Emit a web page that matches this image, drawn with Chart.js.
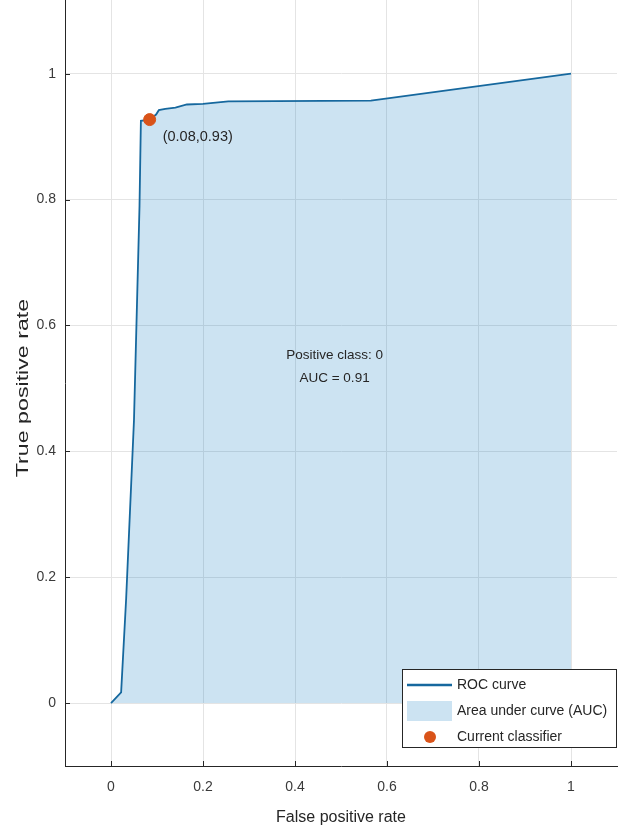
<!DOCTYPE html>
<html>
<head>
<meta charset="utf-8">
<script src="https://cdn.jsdelivr.net/npm/chart.js@4"></script>
<style>
  html, body { margin: 0; padding: 0; background: #fff; }
  #roc { display: block; }
</style>
</head>
<body>
<canvas id="roc" width="619" height="831"></canvas>
<script>
// --- data ---
const fpr = [0, 0.022, 0.033, 0.05, 0.062, 0.065, 0.084, 0.098, 0.104, 0.118, 0.14, 0.165, 0.2, 0.255, 0.565, 1];
const tpr = [0, 0.017, 0.167, 0.45, 0.79, 0.925, 0.927, 0.935, 0.942, 0.944, 0.946, 0.951, 0.952, 0.956, 0.957, 1];
const currentFpr = [0.084];
const currentTpr = [0.927];
const xTicks = [0, 0.2, 0.4, 0.6, 0.8, 1];
const yTicks = [0, 0.2, 0.4, 0.6, 0.8, 1];
const aucValue = 0.91;
const positiveClass = 0;

const FONT = "'Liberation Sans', Arial, sans-serif";
const LINE_COLOR = "#16689e";
const AREA_COLOR = "rgba(0,114,189,0.2)";
const DOT_COLOR = "#d95319";
const AXIS_COLOR = "#262626";

const pts = (xs, ys) => xs.map((x, i) => ({ x, y: ys[i] }));

// ticks pointing inwards like matlab, y title, text labels and legend
const matlabBits = {
  id: "matlabBits",
  afterDraw(chart) {
    const { ctx, chartArea: a, scales: { x, y } } = chart;
    ctx.save();
    ctx.strokeStyle = AXIS_COLOR;
    ctx.lineWidth = 1;
    ctx.beginPath();
    xTicks.forEach(v => {
      const px = Math.round(x.getPixelForValue(v)) + 0.5;
      ctx.moveTo(px, a.bottom); ctx.lineTo(px, a.bottom - 5);
    });
    yTicks.forEach(v => {
      const py = Math.round(y.getPixelForValue(v)) + 0.5;
      ctx.moveTo(a.left, py); ctx.lineTo(a.left + 5, py);
    });
    ctx.stroke();

    // y title, stretched along its length like in the picture
    ctx.save();
    ctx.translate(24, (a.top + a.bottom) / 2 + 5);
    ctx.rotate(-Math.PI / 2);
    ctx.scale(1.45, 1);
    ctx.fillStyle = AXIS_COLOR;
    ctx.font = "16px " + FONT;
    ctx.textAlign = "center";
    ctx.textBaseline = "middle";
    ctx.fillText("True positive rate", 0, 0);
    ctx.restore();

    // annotation next to the current classifier
    ctx.fillStyle = AXIS_COLOR;
    ctx.font = "14.5px " + FONT;
    ctx.textBaseline = "middle";
    ctx.textAlign = "left";
    const cx = x.getPixelForValue(currentFpr[0]);
    const cy = y.getPixelForValue(currentTpr[0]);
    ctx.fillText("(" + currentFpr[0].toFixed(2) + "," + currentTpr[0].toFixed(2) + ")", cx + 13, cy + 17);

    // class / AUC text
    ctx.font = "13.5px " + FONT;
    ctx.textAlign = "center";
    const tx = x.getPixelForValue(0.486);
    ctx.fillText("Positive class: " + positiveClass, tx, y.getPixelForValue(0.552));
    ctx.fillText("AUC = " + aucValue.toFixed(2), tx, y.getPixelForValue(0.516));

    // legend box in the lower right corner
    const L = 402, T = 669, R = a.right, B = 748;
    ctx.fillStyle = "#fff";
    ctx.fillRect(L, T, R - L, B - T);
    ctx.strokeStyle = AXIS_COLOR;
    ctx.strokeRect(L + 0.5, T + 0.5, R - L - 1, B - T - 1);
    ctx.font = "14px " + FONT;
    const ds = chart.data.datasets;
    const rows = [ds[1], ds[2], ds[0]];
    rows.forEach((d, i) => {
      const ry = T + 16 + i * 26;
      if (d.type === "scatter") {
        ctx.fillStyle = d.backgroundColor;
        ctx.beginPath(); ctx.arc(430, ry, 6, 0, Math.PI * 2); ctx.fill();
      } else if (d.fill) {
        ctx.fillStyle = d.backgroundColor;
        ctx.fillRect(407, ry - 10, 45, 20);
      } else {
        ctx.strokeStyle = d.borderColor;
        ctx.lineWidth = 2.5;
        ctx.beginPath(); ctx.moveTo(407, ry); ctx.lineTo(452, ry); ctx.stroke();
      }
      ctx.fillStyle = AXIS_COLOR;
      ctx.textAlign = "left";
      ctx.fillText(d.label, 457, ry);
    });
    ctx.restore();
  }
};

new Chart(document.getElementById("roc"), {
  type: "line",
  data: {
    datasets: [
      {
        type: "scatter",
        label: "Current classifier",
        data: pts(currentFpr, currentTpr),
        backgroundColor: DOT_COLOR,
        borderColor: DOT_COLOR,
        pointRadius: 6,
        order: 0
      },
      {
        label: "ROC curve",
        data: pts(fpr, tpr),
        borderColor: LINE_COLOR,
        borderWidth: 1.8,
        pointRadius: 0,
        fill: false,
        tension: 0,
        order: 1
      },
      {
        label: "Area under curve (AUC)",
        data: pts(fpr, tpr),
        borderWidth: 0,
        borderColor: "rgba(0,0,0,0)",
        backgroundColor: AREA_COLOR,
        pointRadius: 0,
        fill: "origin",
        tension: 0,
        order: 2
      }
    ]
  },
  options: {
    responsive: false,
    animation: false,
    layout: { autoPadding: false, padding: { left: 0, right: 2, top: 0, bottom: 0 } },
    plugins: { legend: { display: false }, tooltip: { enabled: false } },
    scales: {
      x: {
        type: "linear",
        min: -0.1, max: 1.1,
        afterBuildTicks: s => { s.ticks = xTicks.map(v => ({ value: v })); },
        afterFit: s => { s.height = 65; s.paddingLeft = 0; s.paddingRight = 0; },
        grid: { color: "#e4e4e4", drawTicks: false },
        border: { color: AXIS_COLOR, width: 1 },
        ticks: { padding: 13, color: "#3a3a3a", font: { family: FONT, size: 14 }, callback: v => String(v) },
        title: { display: true, text: "False positive rate", color: AXIS_COLOR,
                 font: { family: FONT, size: 16 }, padding: { top: 0, bottom: 4 } }
      },
      y: {
        type: "linear",
        min: -0.1, max: 1.117,
        afterBuildTicks: s => { s.ticks = yTicks.map(v => ({ value: v })); },
        afterFit: s => { s.width = 65; s.paddingTop = 0; s.paddingBottom = 0; },
        grid: { color: "#e4e4e4", drawTicks: false },
        border: { color: AXIS_COLOR, width: 1 },
        ticks: { padding: 9, color: "#3a3a3a", font: { family: FONT, size: 14 }, callback: v => String(v) },
        title: { display: false, text: "True positive rate" }
      }
    }
  },
  plugins: [matlabBits]
});
</script>
</body>
</html>
